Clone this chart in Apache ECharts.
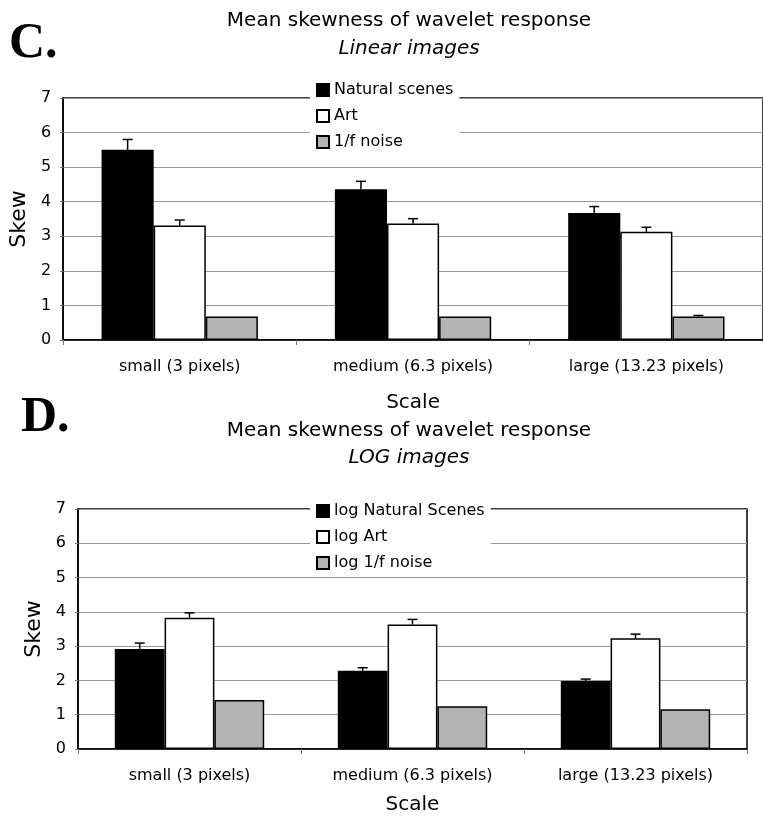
<!DOCTYPE html>
<html><head><meta charset="utf-8">
<script src="https://cdn.jsdelivr.net/npm/echarts@6/dist/echarts.min.js"></script>
<style>html,body{margin:0;padding:0;background:#fff}#c{width:763px;height:821px}</style>
</head><body><div id="c"></div>
<script>
const categories = ['small (3 pixels)', 'medium (6.3 pixels)', 'large (13.23 pixels)'];
const yTicks = [0, 1, 2, 3, 4, 5, 6, 7];
// Panel C: Linear images
const linNatural = [5.5, 4.36, 3.67];
const linNaturalErr = [0.3, 0.23, 0.19];
const linArt = [3.31, 3.37, 3.13];
const linArtErr = [0.16, 0.14, 0.13];
const linNoise = [0.68, 0.68, 0.68];
const linNoiseErr = [0, 0, 0.03];
// Panel D: LOG images
const logNatural = [2.92, 2.28, 1.98];
const logNaturalErr = [0.17, 0.09, 0.06];
const logArt = [3.83, 3.63, 3.23];
const logArtErr = [0.14, 0.15, 0.12];
const logNoise = [1.43, 1.25, 1.16];
const logNoiseErr = [0, 0, 0];

const FONT = 'DejaVu Sans';
const GAP = 0.33;
const colors = ['#000000', '#ffffff', '#b3b3b3'];

function errSeries(gridIdx, vals, errs, s) {
  return {
    type: 'custom', xAxisIndex: gridIdx, yAxisIndex: gridIdx, z: 5, silent: true,
    data: vals.map((v, i) => [i, v, errs[i]]),
    renderItem: function (params, api) {
      const cat = api.value(0), v = api.value(1), e = api.value(2);
      if (!e) return null;
      const band = api.size([1, 0])[0];
      const bw = band * (1 - GAP) / 3;
      const cx = api.coord([cat, 0])[0] + (s - 1) * bw;
      const y0 = api.coord([cat, v])[1];
      const y1 = api.coord([cat, v + e])[1];
      const st = { stroke: '#000', lineWidth: 1.5 };
      return { type: 'group', children: [
        { type: 'line', shape: { x1: cx, y1: y0, x2: cx, y2: y1 }, style: st },
        { type: 'line', shape: { x1: cx - 5, y1: y1, x2: cx + 5, y2: y1 }, style: st }
      ]};
    }
  };
}
function barSeries(name, gridIdx, vals, s) {
  return {
    name: name, type: 'bar', xAxisIndex: gridIdx, yAxisIndex: gridIdx,
    data: vals, barGap: '0%', barCategoryGap: (GAP * 100) + '%',
    itemStyle: { color: colors[s], borderColor: '#000', borderWidth: 1.5 },
    emphasis: { disabled: true }
  };
}
function xAx(gridIdx, gap) {
  return {
    type: 'category', gridIndex: gridIdx, data: categories,
    axisLine: { lineStyle: { color: '#000', width: 1.5 } },
    axisTick: { show: true, length: 5, lineStyle: { color: '#777' } },
    axisLabel: { fontFamily: FONT, fontSize: 16, color: '#000', margin: 19 },
    name: 'Scale', nameLocation: 'middle', nameGap: gap,
    nameTextStyle: { fontFamily: FONT, fontSize: 20, color: '#000' }
  };
}
function yAx(gridIdx, gap) {
  return {
    type: 'value', gridIndex: gridIdx, min: 0, max: 7, interval: 1,
    axisLine: { show: true, lineStyle: { color: '#000', width: 1.5 } },
    axisTick: { show: true, length: 3, lineStyle: { color: '#777' } },
    axisLabel: { fontFamily: FONT, fontSize: 16, color: '#000', margin: 12,
      formatter: v => yTicks.includes(v) ? String(v) : '' },
    splitLine: { show: true, lineStyle: { color: '#999', width: 1.2 } },
    name: 'Skew', nameLocation: 'middle', nameGap: gap, nameRotate: 90,
    nameTextStyle: { fontFamily: FONT, fontSize: 22, color: '#000' }
  };
}
const legendBase = {
  orient: 'vertical', icon: 'rect', itemWidth: 12, itemHeight: 12, itemGap: 10,
  backgroundColor: '#fff', padding: [3, 6, 3, 6], z: 10, selectedMode: false,
  textStyle: { fontFamily: FONT, fontSize: 16, color: '#000' }
};
const chart = echarts.init(document.getElementById('c'), null, { renderer: 'canvas' });
chart.setOption({
  animation: false,
  backgroundColor: '#fff',
  title: [
    { text: 'Mean skewness of wavelet response', left: 404, top: 6, textAlign: 'center',
      textStyle: { fontFamily: FONT, fontSize: 20, fontWeight: 'normal', color: '#000' } },
    { text: 'Linear images', left: 404, top: 34, textAlign: 'center',
      textStyle: { fontFamily: FONT, fontSize: 20, fontWeight: 'normal', fontStyle: 'italic', color: '#000' } },
    { text: 'C.', left: 4, top: 14,
      textStyle: { fontFamily: 'Liberation Serif', fontSize: 50, fontWeight: 'bold', color: '#000' } },
    { text: 'Mean skewness of wavelet response', left: 404, top: 416, textAlign: 'center',
      textStyle: { fontFamily: FONT, fontSize: 20, fontWeight: 'normal', color: '#000' } },
    { text: 'LOG images', left: 404, top: 443, textAlign: 'center',
      textStyle: { fontFamily: FONT, fontSize: 20, fontWeight: 'normal', fontStyle: 'italic', color: '#000' } },
    { text: 'D.', left: 16, top: 388,
      textStyle: { fontFamily: 'Liberation Serif', fontSize: 50, fontWeight: 'bold', color: '#000' } }
  ],
  legend: [
    Object.assign({}, legendBase, { data: ['Natural scenes', 'Art', '1/f noise'], left: 310, top: 79 }),
    Object.assign({}, legendBase, { data: ['log Natural Scenes', 'log Art', 'log 1/f noise'], left: 310, top: 500 })
  ],
  grid: [
    { left: 60, top: 98, width: 712, height: 242, show: true, borderColor: '#000', borderWidth: 1.5, backgroundColor: 'transparent' },
    { left: 78, top: 509, width: 669, height: 240, show: true, borderColor: '#000', borderWidth: 1.5, backgroundColor: 'transparent' }
  ],
  xAxis: [xAx(0, 53), xAx(1, 46)],
  yAxis: [yAx(0, 32), yAx(1, 29)],
  series: [
    barSeries('Natural scenes', 0, linNatural, 0),
    barSeries('Art', 0, linArt, 1),
    barSeries('1/f noise', 0, linNoise, 2),
    errSeries(0, linNatural, linNaturalErr, 0),
    errSeries(0, linArt, linArtErr, 1),
    errSeries(0, linNoise, linNoiseErr, 2),
    barSeries('log Natural Scenes', 1, logNatural, 0),
    barSeries('log Art', 1, logArt, 1),
    barSeries('log 1/f noise', 1, logNoise, 2),
    errSeries(1, logNatural, logNaturalErr, 0),
    errSeries(1, logArt, logArtErr, 1),
    errSeries(1, logNoise, logNoiseErr, 2)
  ]
});
</script></body></html>
